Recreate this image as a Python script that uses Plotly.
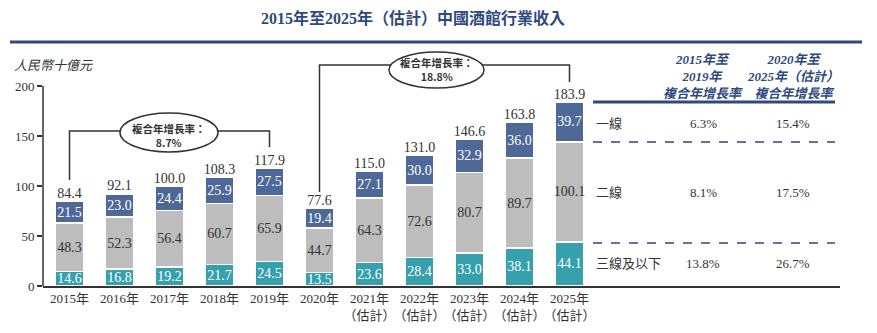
import plotly.graph_objects as go

years = ["2015年", "2016年", "2017年", "2018年", "2019年", "2020年",
         "2021年<br>（估計）", "2022年<br>（估計）", "2023年<br>（估計）",
         "2024年<br>（估計）", "2025年<br>（估計）"]
tier3 = [14.6, 16.8, 19.2, 21.7, 24.5, 13.5, 23.6, 28.4, 33.0, 38.1, 44.1]
tier2 = [48.3, 52.3, 56.4, 60.7, 65.9, 44.7, 64.3, 72.6, 80.7, 89.7, 100.1]
tier1 = [21.5, 23.0, 24.4, 25.9, 27.5, 19.4, 27.1, 30.0, 32.9, 36.0, 39.7]
totals = [84.4, 92.1, 100.0, 108.3, 117.9, 77.6, 115.0, 131.0, 146.6, 163.8, 183.9]

cagr_labels = ["複合年增長率：<br>8.7%", "複合年增長率：<br>18.8%"]
table_rows = ["一線", "二線", "三線及以下"]
cagr_1519 = ["6.3%", "8.1%", "13.8%"]
cagr_2025 = ["15.4%", "17.5%", "26.7%"]
table_head = ["2015年至<br>2019年<br>複合年增長率", "2020年至<br>2025年（估計）<br>複合年增長率"]

BLUE = "#4e6997"
GRAY = "#bdbdbd"
TEAL = "#36a0ad"
DARK = "#2e4a7d"
TXT = "#333333"
SERIF = "Liberation Serif, Noto Sans CJK TC, serif"

x = list(range(len(years)))

# pixel -> paper helpers (plot area: x 43..840, y 46..286)
L, R, T, B = 43, 840, 46, 286
def px(v):
    return (v - L) / (R - L)
def py(v):
    return (B - v) / (B - T)

fig = go.Figure()
for vals, col, tcol in [(tier3, TEAL, "white"), (tier2, GRAY, TXT), (tier1, BLUE, "white")]:
    fig.add_trace(go.Bar(
        x=x, y=vals, marker=dict(color=col, line=dict(color="white", width=1.5)),
        width=0.56, text=[f"{v:.1f}" for v in vals], textposition="inside",
        insidetextanchor="middle", constraintext="none", textangle=0,
        textfont=dict(family=SERIF, size=14, color=tcol), hoverinfo="skip",
    ))

fig.add_trace(go.Scatter(
    x=x, y=totals, mode="text", text=[f"{v:.1f}" for v in totals],
    textposition="top center", textfont=dict(family=SERIF, size=14, color=TXT),
    hoverinfo="skip",
))

shapes = []
# y axis line
shapes.append(dict(type="line", xref="paper", yref="y", x0=0, x1=0, y0=0, y1=200,
                   line=dict(color=TXT, width=1.5)))
# title rule
shapes.append(dict(type="line", xref="paper", yref="paper", x0=px(10), x1=px(862),
                   y0=py(42), y1=py(42), line=dict(color=DARK, width=3)))
# callout brackets
shapes.append(dict(type="path", xref="x", yref="y",
                   path="M 0,106 L 0,155 L 4,155 L 4,139",
                   line=dict(color=TXT, width=1.5)))
shapes.append(dict(type="path", xref="x", yref="y",
                   path="M 5,94 L 5,221 L 10,221 L 10,204",
                   line=dict(color=TXT, width=1.5)))
# ellipses
shapes.append(dict(type="circle", xref="x", yref="y", x0=1.01, x1=2.97, y0=134, y1=173,
                   fillcolor="white", line=dict(color=TXT, width=1.5)))
shapes.append(dict(type="circle", xref="x", yref="y", x0=6.39, x1=8.29, y0=198, y1=234,
                   fillcolor="white", line=dict(color=TXT, width=1.5)))
# table lines
shapes.append(dict(type="line", xref="paper", yref="paper", x0=px(593), x1=px(835),
                   y0=py(102), y1=py(102), line=dict(color=DARK, width=3)))
for yy in [142, 243]:
    shapes.append(dict(type="line", xref="paper", yref="paper", x0=px(593), x1=px(835),
                       y0=py(yy), y1=py(yy), line=dict(color=DARK, width=1.5, dash="dash")))

ann = []
def note(text, xx, yy, size, color=TXT, xanchor="center", family=SERIF, xref="paper", yref="paper"):
    ann.append(dict(text=text, xref=xref, yref=yref, x=xx, y=yy, xanchor=xanchor,
                    yanchor="middle", showarrow=False,
                    font=dict(family=family, size=size, color=color)))

note("<b>2015年至2025年（估計）中國酒館行業收入</b>", px(413), py(18), 16, DARK)
note("<i>人民幣十億元</i>", px(12), py(65), 13, xanchor="left")
note("<b>" + cagr_labels[0] + "</b>", 1.99, 286 - 135.5, 10.5, family="Noto Sans CJK TC",
     xref="x", yref="y")
note("<b>" + cagr_labels[1] + "</b>", 7.34, 286 - 69, 10.5, family="Noto Sans CJK TC",
     xref="x", yref="y")
for cx, h in zip([703, 793], table_head):
    note("<b><i>" + h + "</i></b>", px(cx), py(76.5), 13, DARK)
for yy, lab, a, b in zip([123, 192, 263], table_rows, cagr_1519, cagr_2025):
    note(lab, px(594), py(yy), 13, xanchor="left")
    note(a, px(703), py(yy), 13)
    note(b, px(793), py(yy), 13)

fig.update_layout(
    barmode="stack", width=877, height=333, showlegend=False,
    margin=dict(l=L, r=877 - R, t=T, b=333 - B),
    plot_bgcolor="white", paper_bgcolor="white",
    shapes=shapes, annotations=ann,
    xaxis=dict(range=[-0.53, (R - 69.5) / 50], tickvals=x, ticktext=years, tickangle=0,
               automargin=False,
               showline=True, linecolor=TXT, linewidth=1.5, ticks="", showgrid=False,
               zeroline=False, tickfont=dict(family=SERIF, size=13, color=TXT)),
    yaxis=dict(range=[0, B - T], tickvals=[0, 50, 100, 150, 200], ticks="outside",
               automargin=False,
               ticklen=5, tickwidth=1.5, tickcolor=TXT, showline=False, showgrid=False,
               zeroline=False, tickfont=dict(family=SERIF, size=13, color=TXT)),
)

fig.write_html("out.html")
